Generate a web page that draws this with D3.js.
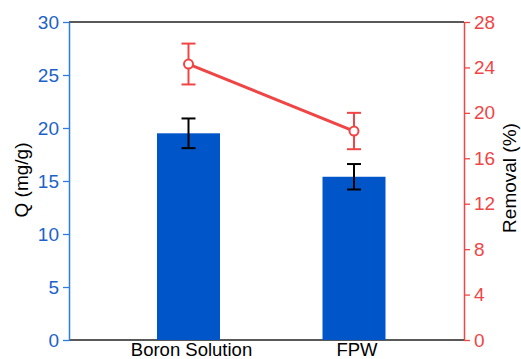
<!DOCTYPE html>
<html lang="en">
<head>
  <meta charset="UTF-8">
  <title>Q and Removal</title>
  <script src="https://d3js.org/d3.v7.min.js"></script>
  <style>
    body { margin: 0; background: #fff; }
    svg text { font-family: "Liberation Sans", Arial, sans-serif; }
  </style>
</head>
<body>
  <div id="chart"></div>

  <script>
    // data
    const categories = ["Boron Solution", "FPW"];
    const qValues = [19.5, 15.4];
    const qErrors = [1.4, 1.2];
    const removalValues = [24.3, 18.4];
    const removalErrors = [1.8, 1.6];
    const leftTicks = [0, 5, 10, 15, 20, 25, 30];
    const rightTicks = [0, 4, 8, 12, 16, 20, 24, 28];

    const width = 521, height = 359;
    const plotL = 69, plotR = 464, plotT = 22, plotB = 340;
    const blue = "#0055c8", blueAxis = "#2f7de1", blueText = "#1c62c8";
    const red = "#f04545";

    const svg = d3.select("#chart").append("svg")
      .attr("width", width)
      .attr("height", height);

    const x = d3.scalePoint().domain(categories).range([188.5, 354]);
    const yL = d3.scaleLinear().domain([0, 30]).range([plotB, plotT]);
    const yR = d3.scaleLinear().domain([0, 28]).range([plotB, plotT]);
    const barW = 63;

    // frame top / bottom
    svg.append("line").attr("x1", plotL).attr("x2", plotR)
      .attr("y1", plotT).attr("y2", plotT).attr("stroke", "#222").attr("stroke-width", 1.3);
    svg.append("line").attr("x1", plotL).attr("x2", plotR)
      .attr("y1", plotB).attr("y2", plotB).attr("stroke", "#222").attr("stroke-width", 1.3);

    // bars
    svg.selectAll(".bar").data(categories).enter().append("rect")
      .attr("x", d => x(d) - barW / 2)
      .attr("y", (d, i) => yL(qValues[i]))
      .attr("width", barW)
      .attr("height", (d, i) => yL(0) - yL(qValues[i]))
      .attr("fill", blue);

    // bar error bars
    const capW = 14;
    categories.forEach((c, i) => {
      const g = svg.append("g").attr("stroke", "#000").attr("stroke-width", 2);
      const hi = yL(qValues[i] + qErrors[i]), lo = yL(qValues[i] - qErrors[i]);
      g.append("line").attr("x1", x(c)).attr("x2", x(c)).attr("y1", hi).attr("y2", lo);
      g.append("line").attr("x1", x(c) - capW / 2).attr("x2", x(c) + capW / 2).attr("y1", hi).attr("y2", hi);
      g.append("line").attr("x1", x(c) - capW / 2).attr("x2", x(c) + capW / 2).attr("y1", lo).attr("y2", lo);
    });

    // removal line
    const line = d3.line()
      .x((d, i) => x(categories[i]))
      .y(d => yR(d));
    svg.append("path")
      .attr("d", line(removalValues))
      .attr("fill", "none")
      .attr("stroke", red)
      .attr("stroke-width", 3);

    categories.forEach((c, i) => {
      const g = svg.append("g").attr("stroke", red).attr("stroke-width", 2);
      const hi = yR(removalValues[i] + removalErrors[i]), lo = yR(removalValues[i] - removalErrors[i]);
      g.append("line").attr("x1", x(c)).attr("x2", x(c)).attr("y1", hi).attr("y2", lo);
      g.append("line").attr("x1", x(c) - capW / 2).attr("x2", x(c) + capW / 2).attr("y1", hi).attr("y2", hi);
      g.append("line").attr("x1", x(c) - capW / 2).attr("x2", x(c) + capW / 2).attr("y1", lo).attr("y2", lo);
      g.append("circle").attr("cx", x(c)).attr("cy", yR(removalValues[i]))
        .attr("r", 4.5).attr("fill", "#fff");
    });

    // left axis
    const axL = svg.append("g")
      .attr("transform", `translate(${plotL},0)`)
      .call(d3.axisLeft(yL).tickValues(leftTicks).tickSize(6).tickPadding(4).tickSizeOuter(0));
    axL.select(".domain").attr("stroke", blueAxis).attr("stroke-width", 1.5);
    axL.selectAll(".tick line").attr("stroke", blueAxis).attr("stroke-width", 1.3);
    axL.selectAll(".tick text").attr("fill", blueText).attr("font-size", 19)
      .attr("font-family", "Liberation Sans, Arial, sans-serif");

    // right axis
    const axR = svg.append("g")
      .attr("transform", `translate(${plotR},0)`)
      .call(d3.axisRight(yR).tickValues(rightTicks).tickSize(6).tickPadding(4).tickSizeOuter(0));
    axR.select(".domain").attr("stroke", red).attr("stroke-width", 1.5);
    axR.selectAll(".tick line").attr("stroke", red).attr("stroke-width", 1.3);
    axR.selectAll(".tick text").attr("fill", red).attr("font-size", 19)
      .attr("font-family", "Liberation Sans, Arial, sans-serif");

    // category labels
    svg.selectAll(".xlab").data(categories).enter().append("text")
      .attr("x", d => x(d) + 3)
      .attr("y", 356)
      .attr("text-anchor", "middle")
      .attr("font-size", 18.5)
      .attr("fill", "#000")
      .text(d => d);

    // axis titles
    svg.append("text")
      .attr("transform", "translate(28,180) rotate(-90)")
      .attr("text-anchor", "middle")
      .attr("font-size", 19)
      .attr("fill", "#000")
      .text("Q (mg/g)");

    svg.append("text")
      .attr("transform", "translate(516,178) rotate(-90)")
      .attr("text-anchor", "middle")
      .attr("font-size", 19)
      .attr("fill", "#000")
      .text("Removal (%)");
  </script>
</body>
</html>
